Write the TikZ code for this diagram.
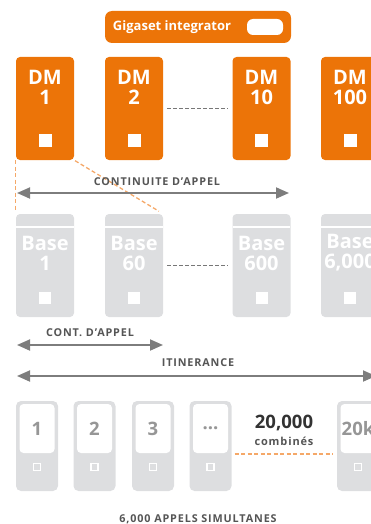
\documentclass[tikz,border=0pt]{standalone}
\usepackage{fontspec}
\setmainfont{Open Sans}
\newfontfamily\lblfont[LetterSpace=8]{Open Sans}
\usetikzlibrary{arrows.meta,positioning}
\definecolor{gorange}{RGB}{236,116,8}
\definecolor{lorange}{RGB}{245,168,104}
\definecolor{bgray}{RGB}{221,222,224}
\definecolor{agray}{RGB}{125,125,125}
\definecolor{tgray}{RGB}{85,85,85}
\definecolor{ngray}{RGB}{150,150,150}
\definecolor{dgray}{RGB}{50,50,50}
\tikzset{
  intbox/.style={fill=gorange,rounded corners=7pt,minimum width=186pt,minimum height=32pt,inner sep=0pt},
  dmbox/.style={fill=gorange,rounded corners=4pt,minimum width=58pt,minimum height=103pt,inner sep=0pt},
  basebox/.style={fill=bgray,rounded corners=4pt,minimum width=58pt,minimum height=103pt,inner sep=0pt,
    path picture={\draw[white,line width=1.6pt] ([yshift=-13pt]path picture bounding box.north west) -- ([yshift=-13pt]path picture bounding box.north east);}},
  hsbox/.style={fill=bgray,rounded corners=5pt,minimum width=42pt,minimum height=90pt,inner sep=0pt},
  hsscr/.style={fill=white,rounded corners=4pt,minimum width=35pt,minimum height=49pt,inner sep=0pt,
    font=\fontsize{18.5}{20}\selectfont\bfseries,text=ngray},
  bigtxt/.style={text=white,align=center,font=\fontsize{20}{20}\selectfont\bfseries,inner sep=0pt},
  sq/.style={fill=white,minimum size=13pt,inner sep=0pt},
  hssq/.style={draw=white,fill=bgray,line width=1.8pt,minimum size=7pt,inner sep=0pt},
  lbl/.style={text=tgray,font=\lblfont\fontsize{10.8}{12}\selectfont\bfseries,inner sep=0pt},
  arr/.style={{Triangle[length=13pt,width=11pt]}-{Triangle[length=13pt,width=11pt]},draw=agray,line width=1.8pt},
  gdash/.style={draw=tgray!80,line width=1pt,dash pattern=on 4pt off 2pt},
  odash/.style={draw=lorange,line width=1.3pt,dash pattern=on 4pt off 2.5pt},
}

\begin{document}
\begin{tikzpicture}[x=1pt,y=-1pt]
\useasboundingbox (0,0) rectangle (371,524);
\clip (0,0) rectangle (371,524);
% integrator
\node[intbox] (gi) at (198,27) {};
\node[text=white,font=\fontsize{13}{14}\selectfont\bfseries,inner sep=0pt] (git) at (172,27) {Gigaset integrator};
\node[fill=white,rounded corners=6pt,minimum width=36pt,minimum height=16pt,inner sep=0pt] (gipill) at (265,27) {};
% DM row
\node[dmbox] (dm1) at (45,108.5) {};
\node[dmbox] (dm2) at (134,108.5) {};
\node[dmbox] (dm10) at (261.5,108.5) {};
\node[dmbox] (dm100) at (350,108.5) {};
\node[bigtxt] (dm1t) at (45,87) {DM\\1};
\node[bigtxt] (dm2t) at (134,87) {DM\\2};
\node[bigtxt] (dm10t) at (261.5,87) {DM\\10};
\node[bigtxt] (dm100t) at (350,87) {DM\\100};
\node[sq] (dm1s) at (45,140.5) {};
\node[sq] (dm2s) at (134,140.5) {};
\node[sq] (dm10s) at (261.5,140.5) {};
\node[sq] (dm100s) at (350,140.5) {};
\draw[gdash,shorten <=4pt,shorten >=5pt] (dm2) -- (dm10);
% base row
\node[basebox] (base1) at (45,265.5) {};
\node[basebox] (base60) at (134,265.5) {};
\node[basebox] (base600) at (261.5,265.5) {};
\node[basebox] (base6k) at (350,265.5) {};
\node[bigtxt] (base1t) at (45,253) {Base\\1};
\node[bigtxt] (base60t) at (134,253) {Base\\60};
\node[bigtxt] (base600t) at (261.5,253) {Base\\600};
\node[bigtxt] (base6kt) at (350,253) {Base\\6,000};
\node[sq,minimum size=12pt] (base1s) at (45,298) {};
\node[sq,minimum size=12pt] (base60s) at (134,298) {};
\node[sq,minimum size=12pt] (base600s) at (261.5,298) {};
\node[sq,minimum size=12pt] (base6ks) at (350,298) {};
\draw[gdash,shorten <=4pt,shorten >=5pt] (base60) -- (base600);
\draw[odash,shorten >=4pt] (dm1.south west) -- (base1.north west);
\draw[odash,shorten <=1pt,shorten >=5pt] (dm1.south east) -- (base60.north east);
% arrows
\coordinate (cont-l) at (17,193);
\coordinate (cont-r) at (289,193);
\coordinate (cap-l) at (17,345);
\coordinate (cap-r) at (163,345);
\coordinate (itin-l) at (17,376);
\coordinate (itin-r) at (376,376);
\node[lbl] (lcont) at (157,182) {CONTINUITE D’APPEL};
\node[lbl] (lcap) at (90,333) {CONT. D’APPEL};
\node[lbl] (litin) at (198,363) {ITINERANCE};
\draw[arr] (cont-l) -- (cont-r);
\draw[arr] (cap-l) -- (cap-r);
\draw[arr] (itin-l) -- (itin-r);
% handsets
\node[hsbox] (hs1) at (37,446) {};
\node[hsbox] (hs2) at (94.5,446) {};
\node[hsbox] (hs3) at (153,446) {};
\node[hsbox] (hsdots) at (210.5,446) {};
\node[hsbox] (hs20k) at (358,446) {};
\node[hsscr] (hs1s) at (37,428.5) {1};
\node[hsscr] (hs2s) at (94.5,428.5) {2};
\node[hsscr] (hs3s) at (153,428.5) {3};
\node[hsscr] (hsdotss) at (210.5,428.5) {...};
\node[hsscr] (hs20ks) at (358,428.5) {20k};
\node[hssq] (hs1k) at (37,467) {};
\node[hssq] (hs2k) at (94.5,467) {};
\node[hssq] (hs3k) at (153,467) {};
\node[hssq] (hsdotsk) at (210.5,467) {};
\node[hssq] (hs20kk) at (358,467) {};
\node[text=dgray,font=\fontsize{18.5}{20}\selectfont\bfseries,inner sep=0pt] (n20) at (284,423) {20,000};
\node[text=tgray,font=\lblfont\fontsize{11}{12}\selectfont\bfseries,inner sep=0pt] (ncomb) at (284,441) {combinés};
\coordinate (cmb) at (284,454);
\draw[odash,shorten <=3pt,shorten >=4pt] (hsdots.east |- cmb) -- (hs20k.west |- cmb);
\node[lbl] (lsim) at (198,519) {6,000 APPELS SIMULTANES};
\end{tikzpicture}
\end{document}
